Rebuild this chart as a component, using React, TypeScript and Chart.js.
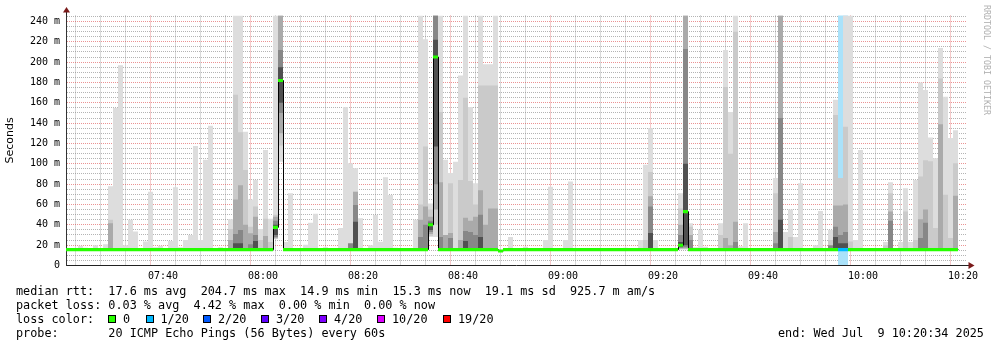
import React, { useEffect, useRef } from 'react';
import { Chart, registerables } from 'chart.js';

Chart.register(...registerables);

// ---- time axis: minutes relative to 07:40, graph spans 07:20:34 .. 10:20:34
const FIRST_MINUTE = -20; // first one-minute sample starts 07:20
const X_MIN = -19.4;
const X_MAX = 160.6;
const Y_MAX = 245.9;
const MIN_PING = 15; // lowest ping of quiet samples (ms)

const xTickLabels = ['07:40', '08:00', '08:20', '08:40', '09:00', '09:20', '09:40', '10:00', '10:20'];
const yTickLabels = ['0', '20 m', '40 m', '60 m', '80 m', '100 m', '120 m', '140 m', '160 m', '180 m', '200 m', '220 m', '240 m'];

// ---- smoke layers (top of each band, ms), one value per minute, 0 = no band above the median
const maxPing = [
  0, 0, 0, 19.5, 17.5, 0, 20, 0, 21, 78,
  155, 197, 20, 45, 33.5, 0, 23.5, 72.5, 18, 19.5,
  0, 24, 77, 18, 25, 30, 117.5, 25, 104, 137.5,
  0, 18, 0, 45.5, 246, 246, 131.5, 65, 84, 36,
  113.5, 46, 246, 246, 23, 71, 0, 0, 20.5, 42,
  51, 17, 18, 17, 0, 37, 156, 100.5, 95.6, 46.4,
  0, 20, 49.7, 23.4, 86.7, 69.3, 17.5, 0, 0, 0,
  45, 246, 222.5, 61, 246, 246, 104, 91, 102, 187,
  246, 156, 81, 246, 198, 198, 246, 0, 0, 28,
  0, 0, 18.5, 0, 0, 0, 25, 77.5, 0, 0,
  25, 82.5, 0, 0, 0, 0, 0, 0, 0, 0,
  0, 0, 17.5, 0, 0, 25, 99, 135, 25, 0,
  0, 0, 0, 71, 246, 41.5, 18, 35, 18.5, 0,
  0, 41.5, 212, 151, 246, 19, 41.5, 0, 0, 0,
  0, 0, 86, 246, 33, 55, 28, 81, 0, 0,
  20, 53.5, 0, 35, 163, 86, 246, 246, 25, 113.5,
  0, 0, 0, 0, 23, 82, 0, 23, 76, 23,
  84, 180, 172.5, 126, 105.5, 214, 166, 125.5, 133,
];

const smoke2 = [
  0, 0, 0, 0, 0, 0, 0, 0, 0, 45,
  0, 0, 0, 0, 0, 0, 0, 0, 0, 0,
  0, 0, 0, 0, 0, 0, 0, 0, 0, 0,
  0, 0, 0, 36, 168, 131, 94, 38, 58, 25,
  46, 23, 50, 246, 0, 0, 0, 0, 0, 0,
  0, 0, 0, 0, 0, 0, 0, 0, 72.6, 0,
  0, 0, 0, 0, 0, 0, 0, 0, 0, 0,
  0, 60, 117, 55, 246, 151, 0, 81, 0, 84,
  165, 83, 60, 177, 177, 177, 177, 0, 0, 0,
  0, 0, 0, 0, 0, 0, 0, 0, 0, 0,
  0, 0, 0, 0, 0, 0, 0, 0, 0, 0,
  0, 0, 0, 0, 0, 0, 25, 92, 0, 0,
  0, 0, 0, 56, 246, 38, 0, 0, 0, 0,
  0, 30, 175.5, 110, 230, 0, 0, 0, 0, 0,
  0, 0, 71, 246, 0, 28, 0, 0, 0, 0,
  0, 0, 0, 25, 148, 86, 136.5, 23.5, 0, 0,
  0, 0, 0, 0, 20, 71, 0, 0, 53, 0,
  25, 87.5, 103.5, 102.5, 37, 184, 69.5, 27, 100.5,
];

const smoke3 = [
  0, 0, 0, 0, 0, 0, 0, 0, 0, 41.5,
  0, 0, 0, 0, 0, 0, 0, 0, 0, 0,
  0, 0, 0, 0, 0, 0, 0, 0, 0, 0,
  0, 0, 0, 25, 65, 79, 40, 31.6, 48, 0,
  29, 0, 48, 246, 0, 0, 0, 0, 0, 0,
  0, 0, 0, 0, 0, 0, 0, 0, 72.6, 0,
  0, 0, 0, 0, 0, 0, 0, 0, 0, 0,
  0, 45, 58, 48, 246, 82, 30, 32, 0, 25,
  47, 44, 48, 74, 40, 56, 56, 0, 0, 0,
  0, 0, 0, 0, 0, 0, 0, 0, 0, 0,
  0, 0, 0, 0, 0, 0, 0, 0, 0, 0,
  0, 0, 0, 0, 0, 0, 0, 68, 0, 0,
  0, 0, 0, 40, 246, 30, 0, 0, 0, 0,
  0, 0, 27, 20, 43, 0, 0, 0, 0, 0,
  0, 0, 33, 246, 0, 0, 0, 0, 0, 0,
  0, 0, 0, 0, 59, 59, 60, 0, 0, 0,
  0, 0, 0, 0, 0, 53, 0, 0, 0, 0,
  0, 45.5, 55, 0, 0, 139, 0, 0, 68.5,
];

const smoke4 = [
  0, 0, 0, 0, 0, 0, 0, 0, 0, 0,
  0, 0, 0, 0, 0, 0, 0, 0, 0, 0,
  0, 0, 0, 0, 0, 0, 0, 0, 0, 0,
  0, 0, 0, 0, 31, 35, 0, 21, 30, 0,
  0, 0, 44, 212, 0, 0, 0, 0, 0, 0,
  0, 0, 0, 0, 0, 0, 0, 22, 59.5, 0,
  0, 0, 0, 0, 0, 0, 0, 0, 0, 0,
  0, 28, 40, 44, 246, 28, 0, 27, 0, 0,
  34, 33, 30, 50, 0, 0, 0, 0, 0, 0,
  0, 0, 0, 0, 0, 0, 0, 0, 0, 0,
  0, 0, 0, 0, 0, 0, 0, 0, 0, 0,
  0, 0, 0, 0, 0, 0, 0, 58, 0, 0,
  0, 0, 0, 30, 213, 25, 0, 0, 0, 0,
  0, 0, 0, 0, 23, 0, 0, 0, 0, 0,
  0, 0, 22, 145, 0, 0, 0, 0, 0, 0,
  0, 0, 0, 20, 38, 30, 33, 0, 0, 0,
  0, 0, 0, 0, 0, 44, 0, 0, 0, 0,
  0, 27, 42, 0, 0, 0, 0, 0, 0,
];

const smoke5 = [
  0, 0, 0, 0, 0, 0, 0, 0, 0, 0,
  0, 0, 0, 0, 0, 0, 0, 0, 0, 0,
  0, 0, 0, 0, 0, 0, 0, 0, 0, 0,
  0, 0, 0, 0, 22, 22, 0, 0, 24, 0,
  0, 0, 40, 195, 0, 0, 0, 0, 0, 0,
  0, 0, 0, 0, 0, 0, 0, 0, 43, 0,
  0, 0, 0, 0, 0, 0, 0, 0, 0, 0,
  0, 0, 0, 42, 222, 0, 0, 0, 0, 0,
  24, 0, 0, 28, 0, 0, 0, 0, 0, 0,
  0, 0, 0, 0, 0, 0, 0, 0, 0, 0,
  0, 0, 0, 0, 0, 0, 0, 0, 0, 0,
  0, 0, 0, 0, 0, 0, 0, 32, 0, 0,
  0, 0, 0, 23, 100, 0, 0, 0, 0, 0,
  0, 0, 0, 0, 0, 0, 0, 0, 0, 0,
  0, 0, 0, 45, 0, 0, 0, 0, 0, 0,
  0, 0, 0, 0, 28, 22, 22, 0, 0, 0,
  0, 0, 0, 0, 0, 0, 0, 0, 0, 0,
  0, 0, 0, 0, 0, 0, 0, 0, 0,
];

// samples whose lowest pings were raised: [minute, bottom of band 1..5]
const raisedBottoms = [
  [22, 26, 26, 27, 28, 30],
  [23, 102, 118, 130, 150, 160],
  [53, 28, 29, 31, 33, 35],
  [54, 28, 40, 55, 80, 117],
  [103, 16, 16, 17, 18, 18],
  [104, 16, 16, 17, 18, 20],
];

const medianMs = [
  15.6, 15.6, 15.6, 15.6, 15.6, 15.6, 15.6, 15.6, 15.6, 15.6,
  15.6, 15.6, 15.6, 15.6, 15.6, 15.6, 15.6, 15.6, 15.6, 15.6,
  15.6, 15.6, 15.6, 15.6, 15.6, 15.6, 15.6, 15.6, 15.6, 15.6,
  15.6, 15.6, 15.6, 15.6, 15.6, 15.6, 15.6, 15.6, 15.6, 15.6,
  15.6, 15.6, 37.5, 182, 15.6, 15.6, 15.6, 15.6, 15.6, 15.6,
  15.6, 15.6, 15.6, 15.6, 15.6, 15.6, 15.6, 15.6, 15.6, 15.6,
  15.6, 15.6, 15.6, 15.6, 15.6, 15.6, 15.6, 15.6, 15.6, 15.6,
  15.6, 15.6, 15.6, 40, 205, 15.6, 15.6, 15.6, 15.6, 15.6,
  15.6, 15.6, 15.6, 15.6, 15.6, 15.6, 15.6, 14.3, 15.6, 15.6,
  15.6, 15.6, 15.6, 15.6, 15.6, 15.6, 15.6, 15.6, 15.6, 15.6,
  15.6, 15.6, 15.6, 15.6, 15.6, 15.6, 15.6, 15.6, 15.6, 15.6,
  15.6, 15.6, 15.6, 15.6, 15.6, 15.6, 15.6, 15.6, 15.6, 15.6,
  15.6, 15.6, 15.6, 20, 53, 15.6, 15.6, 15.6, 15.6, 15.6,
  15.6, 15.6, 15.6, 15.6, 15.6, 15.6, 15.6, 15.6, 15.6, 15.6,
  15.6, 15.6, 15.6, 15.6, 15.6, 15.6, 15.6, 15.6, 15.6, 15.6,
  15.6, 15.6, 15.6, 15.6, 15.6, 15.6, 15.6, 15.6, 15.6, 15.6,
  15.6, 15.6, 15.6, 15.6, 15.6, 15.6, 15.6, 15.6, 15.6, 15.6,
  15.6, 15.6, 15.6, 15.6, 15.6, 15.6, 15.6, 15.6, 15.6,
];

const lossMinutes = [135, 136];
const lossLevel = [1, 1];

const lossLabels = ['0', '1/20', '2/20', '3/20', '4/20', '10/20', '19/20'];
const lossColors = ['#26ff00', '#00b8ff', '#0059ff', '#5e00ff', '#7e00ff', '#dd00ff', '#ff0000'];
const lossBandColor = '#aae2fa';
const smokeColors = ['#dddddd', '#cacaca', '#aaaaaa', '#878787', '#505050'];

const statsLines = [
  'median rtt:  17.6 ms avg  204.7 ms max  14.9 ms min  15.3 ms now  19.1 ms sd  925.7 m am/s',
  'packet loss: 0.03 % avg  4.42 % max  0.00 % min  0.00 % now',
];
const lossTitle = 'loss color:';
const probeLine = 'probe:       20 ICMP Echo Pings (56 Bytes) every 60s';
const endLine = 'end: Wed Jul  9 10:20:34 2025';
const watermark = 'RRDTOOL / TOBI OETIKER';

// layout of the loss-colour legend (pixels)
const lossBoxX = [108, 146, 203, 261, 319, 377, 443];
const lossTextX = [123, 160.5, 218, 276, 334, 392, 458];

const MONO = '"DejaVu Sans Mono", monospace';

function buildDatasets() {
  const layers = [maxPing, smoke2, smoke3, smoke4, smoke5];
  const bottomOf = (layer: number, minute: number) => {
    const r = raisedBottoms.find((row) => row[0] === minute);
    return r ? r[layer + 1] : MIN_PING;
  };
  const lossAt = (minute: number) => {
    const k = lossMinutes.indexOf(minute);
    return k >= 0 ? lossLevel[k] : 0;
  };
  const datasets: any[] = [];

  datasets.push({
    type: 'bar',
    label: 'loss',
    data: lossMinutes.map((m) => ({ x: m + 0.5, y: [0, 250] })),
    backgroundColor: lossBandColor,
    order: 20,
  });

  layers.forEach((arr, li) => {
    const data: any[] = [];
    arr.forEach((top, i) => {
      const m = FIRST_MINUTE + i;
      if (top > 0) data.push({ x: m + 0.5, y: [bottomOf(li, m), top] });
    });
    datasets.push({
      type: 'bar',
      label: 'smoke' + (li + 1),
      data,
      backgroundColor: smokeColors[li],
      order: 15 - li,
    });
  });

  const stepData = medianMs.map((v, i) => ({ x: FIRST_MINUTE + i, y: v }));
  stepData.push({ x: FIRST_MINUTE + medianMs.length, y: medianMs[medianMs.length - 1] });
  datasets.push({
    type: 'line',
    label: 'median-step',
    data: stepData,
    stepped: true,
    borderColor: '#000000',
    borderWidth: 1,
    pointRadius: 0,
    fill: false,
    order: 2,
  });

  datasets.push({
    type: 'bar',
    label: 'median',
    data: medianMs.map((v, i) => ({ x: FIRST_MINUTE + i + 0.5, y: [v - 1.5, v + 1.5] })),
    backgroundColor: medianMs.map((_, i) => lossColors[lossAt(FIRST_MINUTE + i)]),
    order: 1,
  });

  datasets.forEach((d) => {
    if (d.type === 'bar') {
      d.grouped = false;
      d.barPercentage = 1;
      d.categoryPercentage = 1;
      d.borderWidth = 0;
      d.inflateAmount = 0;
    }
  });
  return datasets;
}

const crispLine = {
  id: 'crispLine',
  beforeDatasetDraw(chart: any, args: any) {
    if (args.meta.type === 'line') {
      chart.ctx.save();
      chart.ctx.translate(0.5, 0);
    }
  },
  afterDatasetDraw(chart: any, args: any) {
    if (args.meta.type === 'line') chart.ctx.restore();
  },
};

const arrows = {
  id: 'arrows',
  afterDraw(chart: any) {
    const { ctx, chartArea } = chart;
    const { left, right, top, bottom } = chartArea;
    const ax = Math.round(left) + 0.5;
    const ay = Math.round(bottom - 0.5) + 0.5;
    ctx.save();
    ctx.strokeStyle = '#222';
    ctx.lineWidth = 1;
    ctx.beginPath();
    ctx.moveTo(right, ay);
    ctx.lineTo(right + 4, ay);
    ctx.moveTo(ax, top);
    ctx.lineTo(ax, top - 4);
    ctx.stroke();
    ctx.fillStyle = '#7a1a1a';
    ctx.beginPath();
    ctx.moveTo(right + 2.5, ay - 3.5);
    ctx.lineTo(right + 8.5, ay);
    ctx.lineTo(right + 2.5, ay + 3.5);
    ctx.closePath();
    ctx.fill();
    ctx.beginPath();
    ctx.moveTo(ax - 3.5, top - 3);
    ctx.lineTo(ax, top - 8.5);
    ctx.lineTo(ax + 3.5, top - 3);
    ctx.closePath();
    ctx.fill();
    ctx.restore();
  },
};

const MINOR_GRID = 'rgba(130,130,130,0.6)';
const MAJOR_GRID = 'rgba(215,40,40,0.5)';

export default function App() {
  const ref = useRef<HTMLCanvasElement | null>(null);

  useEffect(() => {
    if (!ref.current) return;
    const xGrid: number[] = [];
    for (let v = Math.ceil(X_MIN / 5) * 5; v <= X_MAX; v += 5) xGrid.push(v);
    const yGrid: number[] = [];
    for (let v = 0; v <= Y_MAX; v += 5) yGrid.push(v);

    const chart = new Chart(ref.current, {
      type: 'bar',
      data: { datasets: buildDatasets() },
      options: {
        animation: false,
        responsive: false,
        devicePixelRatio: 1,
        events: [],
        layout: { padding: { left: 0, right: 31, top: 15.5, bottom: 0 } },
        plugins: {
          legend: { display: false },
          tooltip: { enabled: false },
          title: { display: false },
        },
        scales: {
          x: {
            type: 'linear',
            min: X_MIN,
            max: X_MAX,
            offset: false,
            z: 1,
            afterFit: (s: any) => {
              s.height = 81.5;
            },
            afterBuildTicks: (s: any) => {
              s.ticks = xGrid.map((v) => ({ value: v }));
            },
            grid: {
              color: (c: any) => (c.tick && Math.abs(c.tick.value % 20) === 0 ? MAJOR_GRID : MINOR_GRID),
              lineWidth: 1,
              drawTicks: false,
            },
            border: { display: true, color: '#222', width: 1, dash: [1, 1] },
            ticks: {
              autoSkip: false,
              maxRotation: 0,
              minRotation: 0,
              padding: 5,
              color: '#000',
              font: { family: MONO, size: 10 },
              callback: (v: any) => {
                const n = Number(v);
                if (n >= 0 && n % 20 === 0) return xTickLabels[n / 20] ?? '';
                return '';
              },
            },
          },
          y: {
            type: 'linear',
            min: 0,
            max: Y_MAX,
            z: 1,
            afterFit: (s: any) => {
              s.width = 66;
            },
            afterBuildTicks: (s: any) => {
              s.ticks = yGrid.map((v) => ({ value: v }));
            },
            grid: {
              color: (c: any) => (c.tick && c.tick.value % 20 === 0 ? MAJOR_GRID : MINOR_GRID),
              lineWidth: 1,
              drawTicks: false,
            },
            border: { display: true, color: '#333', width: 1, dash: [1, 1] },
            ticks: {
              autoSkip: false,
              padding: 6,
              color: '#000',
              font: { family: MONO, size: 10 },
              callback: (v: any) => {
                const n = Number(v);
                if (n % 20 === 0) return yTickLabels[n / 20] ?? '';
                return '';
              },
            },
            title: {
              display: true,
              text: 'Seconds',
              color: '#000',
              font: { family: '"DejaVu Sans", sans-serif', size: 11 },
              padding: { top: 4, bottom: 0 },
            },
          },
        },
      } as any,
      plugins: [crispLine, arrows],
    });
    return () => chart.destroy();
  }, []);

  const lineStyle = (top: number, left = 16): React.CSSProperties => ({
    position: 'absolute',
    left,
    top,
    fontFamily: MONO,
    fontSize: '11.8px',
    lineHeight: '14px',
    whiteSpace: 'pre',
    color: '#000',
  });

  return (
    <div style={{ position: 'absolute', left: 0, top: 0, width: 997, height: 347, background: '#fff', overflow: 'hidden' }}>
      <canvas ref={ref} width={997} height={347} style={{ position: 'absolute', left: 0, top: 0, width: 997, height: 347 }} />
      <div style={lineStyle(284)}>{statsLines[0]}</div>
      <div style={lineStyle(298)}>{statsLines[1]}</div>
      <div style={lineStyle(312)}>{lossTitle}</div>
      {lossLabels.map((lab, i) => (
        <React.Fragment key={lab}>
          <div
            style={{
              position: 'absolute',
              left: lossBoxX[i],
              top: 315,
              width: 8,
              height: 8,
              boxSizing: 'border-box',
              border: '1px solid #000',
              background: lossColors[i],
            }}
          />
          <div style={lineStyle(312, lossTextX[i])}>{lab}</div>
        </React.Fragment>
      ))}
      <div style={lineStyle(326)}>{probeLine}</div>
      <div style={lineStyle(326, 778)}>{endLine}</div>
      <div
        style={{
          position: 'absolute',
          left: 992,
          top: 5,
          transformOrigin: 'left top',
          transform: 'rotate(90deg)',
          fontFamily: MONO,
          fontSize: '8.3px',
          lineHeight: '10px',
          whiteSpace: 'pre',
          color: '#b0b0b0',
        }}
      >
        {watermark}
      </div>
    </div>
  );
}
